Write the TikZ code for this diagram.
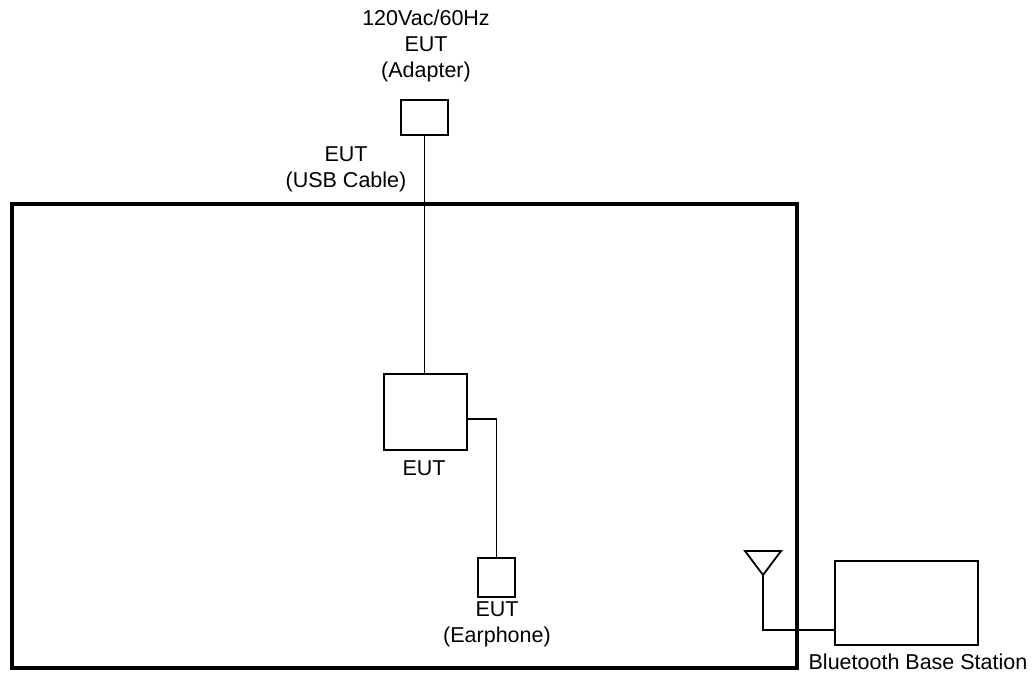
\documentclass[tikz,border=0pt]{standalone}
\usepackage{fontspec}
\setmainfont{Liberation Sans}
\begin{document}
\begin{tikzpicture}[x=1pt,y=-1pt,
  unit/.style={draw,line width=1.8pt,inner sep=0pt},
  wire/.style={line width=1.8pt},
  lbl/.style={align=center,font=\fontsize{21.5}{26}\selectfont,inner sep=0pt}]
\useasboundingbox (0,0) rectangle (1034,675);
% test room
\draw[line width=4pt] (12,204) rectangle (797,668);
% units
\node[unit,minimum width=47pt,minimum height=35pt] (adapter) at (424.5,117.5) {};
\node[unit,minimum width=83pt,minimum height=76pt] (eut) at (425.5,412) {};
\node[unit,minimum width=37pt,minimum height=39pt] (ear) at (496.5,577.5) {};
\node[unit,minimum width=143pt,minimum height=84pt] (bts) at (906.5,603) {};
% labels
\node[lbl] (adapterlbl) at (426,46) {120Vac/60Hz\\EUT\\(Adapter)};
\node[lbl] (cablelbl) at (346,169) {EUT\\(USB Cable)};
\node[lbl] (eutlbl) at (424,468) {EUT};
\node[lbl] (earlbl) at (497,624) {EUT\\(Earphone)};
\node[lbl] (btslbl) at (918,662) {Bluetooth Base Station};
% antenna
\coordinate (ant) at (763,575);
\coordinate (feed) at (763,630);
\draw[wire,line join=miter] (745,551) -- (781,551) -- (ant) -- cycle;
% cables
\coordinate (bend) at (496.5,419);
\draw[wire] (adapter.south) -- (adapter.south |- eut.north);
\draw[wire] (eut.east |- bend) -- (bend) -- (ear.north);
\draw[wire] (ant) -- (feed) -- (feed -| bts.west);
\end{tikzpicture}
\end{document}
